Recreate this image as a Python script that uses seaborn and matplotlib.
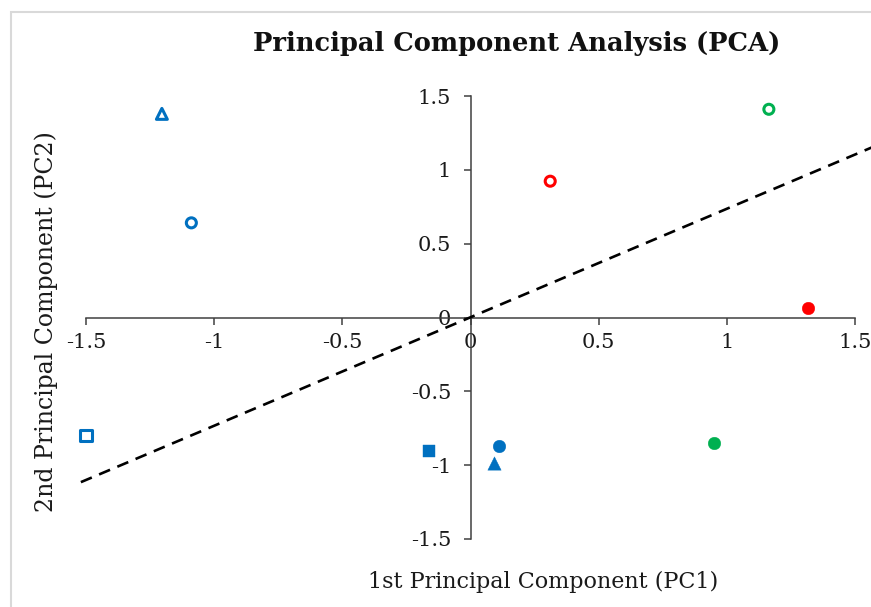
import matplotlib
matplotlib.use("Agg")
import matplotlib.pyplot as plt
import seaborn as sns
import pandas as pd
from matplotlib.patches import Rectangle

# ---- data ----
pc1 = [-1.204, -1.089, -1.50, -0.163, 0.110, 0.091, 0.311, 1.317, 1.164, 0.949]
pc2 = [1.379, 0.641, -0.80, -0.905, -0.871, -0.988, 0.923, 0.061, 1.410, -0.848]
colors = ["#0070C0", "#0070C0", "#0070C0", "#0070C0", "#0070C0", "#0070C0",
          "#FF0000", "#FF0000", "#00B050", "#00B050"]
markers = ["^", "o", "s", "s", "o", "^", "o", "o", "o", "o"]
filled = [False, False, False, True, True, True, False, True, False, True]

line_x = [-1.52, 1.57]
line_y = [-1.115, 1.155]

tick_vals = [-1.5, -1, -0.5, 0, 0.5, 1, 1.5]
tick_labels = ["-1.5", "-1", "-0.5", "0", "0.5", "1", "1.5"]

title = "Principal Component Analysis (PCA)"
xlabel = "1st Principal Component (PC1)"
ylabel = "2nd Principal Component (PC2)"

df = pd.DataFrame({"pc1": pc1, "pc2": pc2, "color": colors,
                   "marker": markers, "filled": filled})

sns.set_theme(style="white")
plt.rcParams["font.family"] = ["DejaVu Serif", "DejaVu Sans"]
plt.rcParams["axes.unicode_minus"] = False

W, H = 871, 607
fig = plt.figure(figsize=(W / 100, H / 100), dpi=100)
fig.patch.set_facecolor("white")

# light grey frame
fig.patches.append(Rectangle((11 / W, -0.05), 1.2, 1 - 12 / H + 0.05,
                             transform=fig.transFigure, fill=False,
                             edgecolor="#d9d9d9", linewidth=1.5, zorder=0))

ax = fig.add_axes([86 / W, 1 - 539 / H, (855 - 86) / W, (539 - 96) / H])
ax.set_facecolor("none")

# dashed line
sns.lineplot(x=line_x, y=line_y, ax=ax, color="black", linewidth=1.9,
             linestyle=(0, (4.5, 3)), zorder=2)
for ln in ax.lines:
    ln.set_clip_on(False)

sizes_open = {"o": 52, "s": 64, "^": 62}
sizes_fill = {"o": 82, "s": 86, "^": 92}
for i, row in df.iterrows():
    m = row["marker"]
    c = row["color"]
    sub = df.iloc[[i]]
    if row["filled"]:
        sns.scatterplot(data=sub, x="pc1", y="pc2", marker=m, s=sizes_fill[m],
                        color=c, edgecolor=c, linewidth=0.3, ax=ax,
                        zorder=3, clip_on=False)
    else:
        sns.scatterplot(data=sub, x="pc1", y="pc2", marker=m, s=sizes_open[m],
                        color=c, edgecolor=c, linewidth=2.2, ax=ax,
                        zorder=3, clip_on=False)
        ax.collections[-1].set_facecolor("none")

ax.set_xlim(-1.5, 1.5)
ax.set_ylim(-1.5, 1.5)

spine_color = "#404040"
for s in ["top", "right"]:
    ax.spines[s].set_visible(False)
ax.spines["left"].set_position(("data", 0))
ax.spines["bottom"].set_position(("data", 0))
for s in ["left", "bottom"]:
    ax.spines[s].set_color(spine_color)
    ax.spines[s].set_linewidth(1.1)
    ax.spines[s].set_zorder(1)

ax.set_xticks(tick_vals)
ax.set_xticklabels(tick_labels)
ax.set_yticks(tick_vals)
ax.set_yticklabels(tick_labels)
ax.tick_params(axis="x", direction="out", length=5, width=1.1, color=spine_color,
               labelsize=15, labelcolor="#1a1a1a", pad=6, bottom=True)
ax.tick_params(axis="y", direction="out", length=5, width=1.1, color=spine_color,
               labelsize=15, labelcolor="#1a1a1a", pad=9, left=True)
ax.set_xlabel("")
ax.set_ylabel("")

fig.text(517 / W, 1 - 43 / H, title, ha="center", va="center",
         fontsize=18.5, fontweight="bold", color="#111111")
fig.text(543 / W, 1 - 582 / H, xlabel, ha="center", va="center",
         fontsize=16, color="#1a1a1a")
fig.text(46 / W, 1 - 322 / H, ylabel, ha="center", va="center",
         rotation=90, fontsize=17, color="#1a1a1a")

fig.savefig("out.png", dpi=100)
